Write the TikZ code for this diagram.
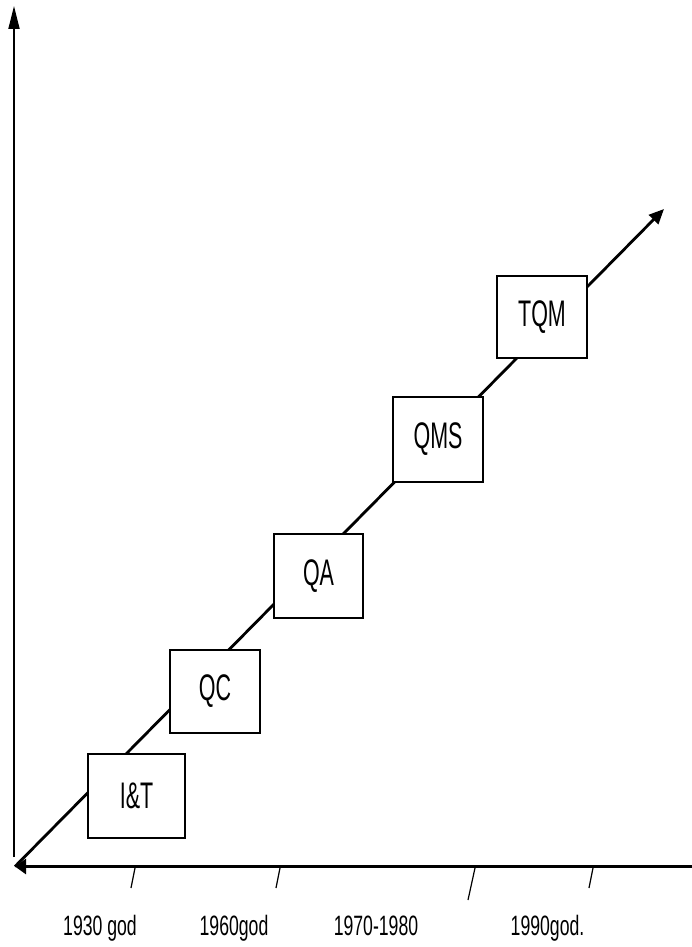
\documentclass[tikz,border=0pt]{standalone}
\usepackage{fontspec}
\setmainfont[FakeStretch=0.62]{Liberation Sans}
\newfontfamily\boxfont[FakeStretch=0.58]{Liberation Sans}
\newfontfamily\yearfont[FakeStretch=0.63]{Liberation Sans}
\usetikzlibrary{arrows.meta}
\begin{document}
\begin{tikzpicture}[x=1pt,y=-1pt,
  stagebox/.style={draw,fill=white,line width=2.8pt,inner sep=0pt,font=\boxfont\fontsize{37}{42}\selectfont},
  yearlabel/.style={anchor=base,inner sep=0pt,font=\yearfont\fontsize{28}{32}\selectfont},
  tickmark/.style={line width=1.2pt}]
\useasboundingbox (0,0) rectangle (692,947);
% axes
\coordinate (vtop) at (14,6);
\coordinate (vbot) at (14,857);
\coordinate (o) at (15,866.5);
\coordinate (hend) at (692,866.5);
\coordinate (tip) at (664,209);
\draw[line width=1.8pt,-{Triangle[length=23pt,width=11pt]}] (vbot) -- (vtop);
\draw[line width=3.5pt,-{Triangle[length=11pt,width=15pt]}] (hend) -- (o);
\draw[line width=2.8pt,-{Triangle[length=15pt,width=13pt]}] (o) -- (tip);
% boxes
\node[stagebox,minimum width=97pt,minimum height=84pt] (it) at (136.5,796) {I\&T};
\node[stagebox,minimum width=90pt,minimum height=83pt] (qc) at (215,691.5) {QC};
\node[stagebox,minimum width=89pt,minimum height=84pt] (qa) at (318.5,576) {QA};
\node[stagebox,minimum width=90pt,minimum height=85pt] (qms) at (438,439.5) {QMS};
\node[stagebox,minimum width=90pt,minimum height=82pt] (tqm) at (542,317) {TQM};
% ticks
\coordinate (t1a) at (135,868); \coordinate (t1b) at (131,888);
\coordinate (t2a) at (280,868); \coordinate (t2b) at (276,888);
\coordinate (t3a) at (475,868); \coordinate (t3b) at (468,900);
\coordinate (t4a) at (593,868); \coordinate (t4b) at (589,888);
\draw[tickmark] (t1a) -- (t1b);
\draw[tickmark] (t2a) -- (t2b);
\draw[tickmark] (t3a) -- (t3b);
\draw[tickmark] (t4a) -- (t4b);
% labels
\node[yearlabel] (l1) at (100,935) {1930 god};
\node[yearlabel] (l2) at (234,935) {1960god};
\node[yearlabel] (l3) at (376,935) {1970-1980};
\node[yearlabel] (l4) at (547.5,935) {1990god.};
\end{tikzpicture}
\end{document}
